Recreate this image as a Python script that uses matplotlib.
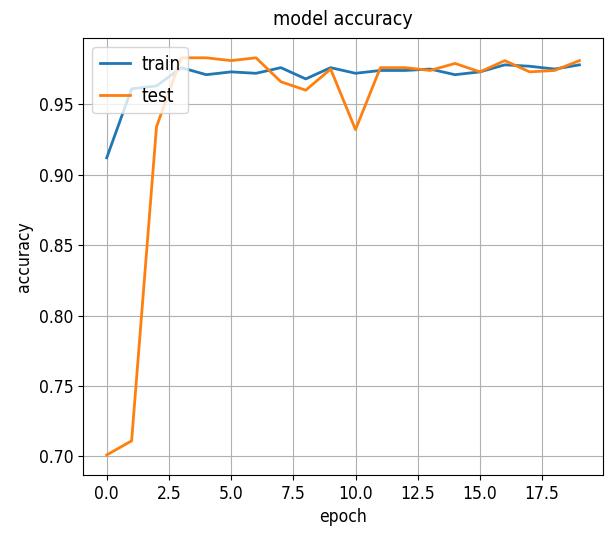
import numpy as np
import matplotlib.pyplot as plt

epochs = np.arange(20)
train_acc = [0.912, 0.961, 0.963, 0.976, 0.971, 0.973, 0.972, 0.976, 0.968, 0.976,
             0.972, 0.974, 0.974, 0.975, 0.971, 0.973, 0.978, 0.977, 0.975, 0.978]
test_acc = [0.701, 0.711, 0.934, 0.983, 0.983, 0.981, 0.983, 0.966, 0.960, 0.975,
            0.932, 0.976, 0.976, 0.974, 0.979, 0.973, 0.981, 0.973, 0.974, 0.981]

plt.rcParams['font.size'] = 12.5
plt.rcParams['font.stretch'] = 'condensed'

fig = plt.figure(figsize=(6.11, 5.42), dpi=100)
ax = fig.add_axes([0.136, 0.124, 0.851, 0.806])
ax.plot(epochs, train_acc, lw=2)
ax.plot(epochs, test_acc, lw=2)
ax.set_title('model accuracy', fontsize=14, pad=9)
ax.set_xlabel('epoch')
ax.set_ylabel('accuracy')
ax.grid(True)
ax.legend(['train', 'test'], loc='upper left', fontsize=13.5,
          handlelength=1.6, labelspacing=0.7, handletextpad=0.6)
fig.savefig('out.png')
